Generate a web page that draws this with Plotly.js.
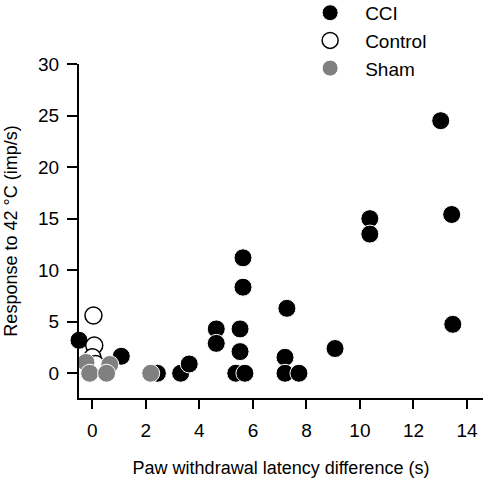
<!DOCTYPE html>
<html>
<head>
<meta charset="utf-8">
<script src="https://cdn.plot.ly/plotly-3.0.1.min.js"></script>
<style>html,body{margin:0;padding:0;background:#fff;}#chart{width:495px;height:482px;}</style>
</head>
<body>
<div id="chart"></div>
<script>
const cciX = [-0.5, 1.08, 2.43, 3.3, 3.62, 4.63, 4.63, 5.52, 5.52, 5.36, 5.7, 5.63, 5.63, 7.27, 7.2, 7.2, 7.72, 9.07, 10.37, 10.37, 13.02, 13.43, 13.47];
const cciY = [3.2, 1.65, 0, 0, 0.9, 4.3, 2.9, 4.3, 2.1, 0, 0, 8.35, 11.2, 6.3, 1.55, 0, 0, 2.4, 15.0, 13.5, 24.5, 15.4, 4.75];
const controlX = [0.04, 0.07, 0.0, 0.12];
const controlY = [5.6, 2.7, 1.55, 0.9];
const shamX = [-0.24, 0.65, -0.1, 0.53, 2.18];
const shamY = [1.05, 0.85, 0.0, 0.0, 0.0];

const font = {family: 'Liberation Sans, Arial, sans-serif', color: '#000'};
const traces = [
  {x: cciX, y: cciY, name: 'CCI', mode: 'markers', type: 'scatter', cliponaxis: false, legendgroup: 'a',
   marker: {size: 18, color: '#000', line: {color: '#fff', width: 1}}},
  {x: controlX, y: controlY, name: 'Control', mode: 'markers', type: 'scatter', cliponaxis: false, legendgroup: 'b',
   marker: {size: 17, color: '#fff', line: {color: '#000', width: 1.5}}},
  {x: shamX, y: shamY, name: 'Sham', mode: 'markers', type: 'scatter', cliponaxis: false, legendgroup: 'c',
   marker: {size: 18, color: '#808080', line: {color: '#fff', width: 1}}}
];
const layout = {
  width: 495, height: 482,
  margin: {l: 79, r: 12, t: 64, b: 84, autoexpand: false},
  paper_bgcolor: '#fff', plot_bgcolor: '#fff',
  font: Object.assign({size: 18}, font),
  showlegend: true,
  legend: {x: 0.535, xanchor: 'left', y: 1.21, yanchor: 'top', font: Object.assign({size: 19}, font),
           bgcolor: 'rgba(0,0,0,0)', tracegroupgap: 0, itemsizing: 'trace', itemwidth: 60},
  xaxis: {range: [-0.5, 14.6], tickvals: [0, 2, 4, 6, 8, 10, 12, 14], showgrid: false, zeroline: false,
          showline: true, linecolor: '#000', linewidth: 2, ticks: 'outside', ticklen: 9, tickwidth: 2, tickcolor: '#000',
          tickfont: Object.assign({size: 19}, font), ticklabelstandoff: 5,
          title: {text: 'Paw withdrawal latency difference (s)', font: Object.assign({size: 18}, font), standoff: 22}},
  yaxis: {range: [-2.4, 30], tickvals: [0, 5, 10, 15, 20, 25, 30], showgrid: false, zeroline: false,
          showline: true, linecolor: '#000', linewidth: 2, ticks: 'outside', ticklen: 10, tickwidth: 2, tickcolor: '#000',
          tickfont: Object.assign({size: 19}, font), ticklabelstandoff: 4,
          title: {text: 'Response to 42 °C (imp/s)', font: Object.assign({size: 18}, font), standoff: 16}}
};
Plotly.newPlot('chart', traces, layout, {displayModeBar: false});
</script>
</body>
</html>
